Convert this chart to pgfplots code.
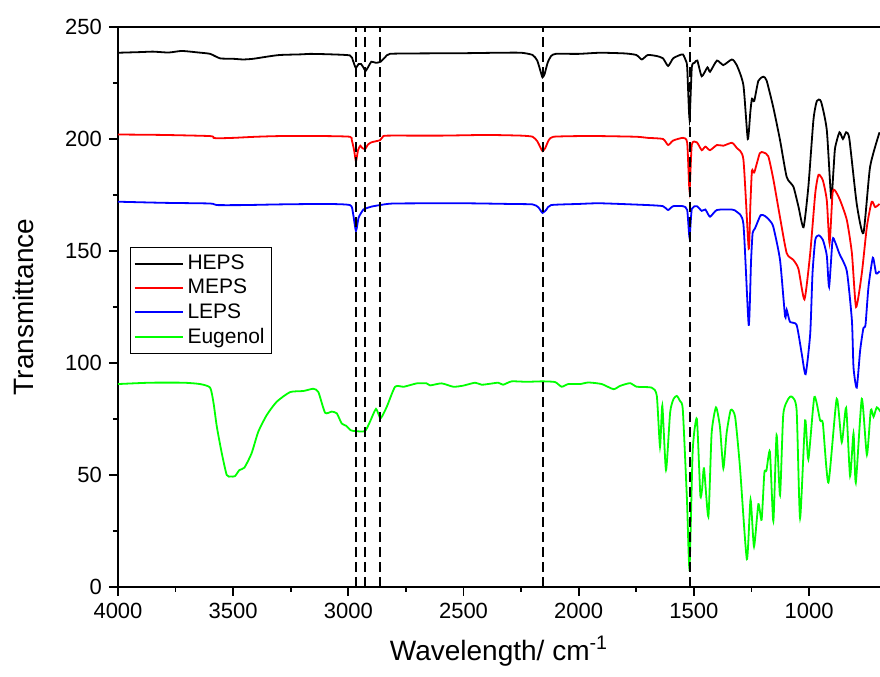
\documentclass[border=0pt]{standalone}
\usepackage{pgfplots}
\pgfplotsset{compat=1.18}
\usepackage{fontspec}
\setmainfont{Liberation Sans}
\definecolor{cgreen}{RGB}{0,255,0}
\definecolor{cred}{RGB}{255,0,0}
\definecolor{cblue}{RGB}{0,0,255}
\begin{document}
\begin{tikzpicture}
\begin{axis}[
  name=ax,
  scale only axis, width=381pt, height=280pt,
  x dir=reverse, xmin=692, xmax=4000, ymin=0, ymax=250,
  xtick={1000,1500,2000,2500,3000,3500,4000},
  ytick={0,50,100,150,200,250},
  minor x tick num=1, minor y tick num=1,
  axis x line*=box, axis y line*=left,
  xtick pos=left, ytick pos=left,
  tick align=outside,
  major tick length=4.5pt, minor tick length=2.5pt,
  every tick/.style={black, line width=0.9pt},
  axis line style={line width=0.9pt},
  /pgf/number format/set thousands separator={},
  /pgf/number format/assume math mode=true,
  ticklabel style={font=\fontsize{11}{13}\selectfont},
  xlabel={Wavelength/ cm\textsuperscript{-1}},
  ylabel={Transmittance},
  xlabel style={font=\fontsize{14}{16}\selectfont, at={(axis description cs:0.5,-0.1304)}, anchor=base},
  ylabel style={font=\fontsize{14}{16}\selectfont, at={(axis description cs:-0.1115,0.5)}, anchor=base, rotate=0},
  legend style={at={(axis description cs:0.0157,0.607)}, anchor=north west,
    draw=black, line width=0.6pt, font=\fontsize{10.5}{12.5}\selectfont,
    row sep=-0.6pt, inner xsep=1.5pt, inner ysep=1.5pt},
  legend cell align=left,
  legend image code/.code={\draw[#1, line width=1pt] (0pt,0pt) -- (24pt,0pt);},
  every axis plot/.append style={line width=0.9pt},
  spec/.style={smooth, tension=0.35},
]
\addplot[black, spec] coordinates {
(4000,238.5)(3900,238.8)(3848,239)(3780,238.6)(3723,239.3)(3650,238.6)(3600,238)(3557,236)(3500,235.8)(3457,235.5)(3413,235.8)(3350,236.8)(3297,237.5)(3200,237.8)(3166,238)(3080,237.8)(2993,237.3)(2980,235)(2968,231.8)(2955,233.5)(2945,233.5)(2935,232)(2925,230.4)(2912,232.5)(2900,234.5)(2880,234)(2860,234.5)(2840,236.5)(2820,238)(2700,238.2)(2500,238.3)(2350,238.5)(2250,238.5)(2200,237.5)(2180,235)(2165,230)(2157,227.5)(2148,229)(2135,234)(2120,237)(2100,238)(2000,238)(1907,238.5)(1800,238.2)(1750,237.5)(1726,235.5)(1700,237.5)(1660,237)(1634,236)(1612,232.6)(1590,236)(1560,237.5)(1547,237.7)(1535,235)(1529,232)(1519,209)(1509,232)(1497,234)(1485,235)(1466,228)(1441,232)(1430,230)(1400,235)(1372,233)(1335,235.5)(1314,233)(1285,224)(1266,200)(1255,212)(1248,218)(1238,217)(1220,226)(1198,227.8)(1184,226)(1155,214)(1126,199.5)(1097,183)(1068,178.7)(1046,169.8)(1024,160.6)(1003,178.7)(981,208.5)(966,217)(948,216.7)(923,204)(904,173.5)(894,186)(887,196)(868,203)(853,200)(839,203)(825,200)(793,171)(764,158)(735,187.6)(694,203)};
\addlegendentry{HEPS}
\addplot[cred, spec] coordinates {
(4000,202)(3800,201.8)(3600,201.3)(3585,200.5)(3571,200.3)(3500,200.5)(3400,201)(3297,201.3)(3100,201.3)(2993,201)(2985,199.5)(2975,195)(2967,190)(2958,195)(2948,197)(2940,196)(2927,195.5)(2915,197.5)(2900,198.5)(2880,199)(2862,199.5)(2850,201)(2830,201.5)(2600,201.5)(2400,201.8)(2250,201.5)(2200,201)(2180,199)(2165,196)(2157,194.6)(2145,196)(2130,199.5)(2110,201)(2000,201.3)(1907,201.3)(1750,201)(1700,200.5)(1634,200)(1612,197.3)(1590,199.3)(1547,200.5)(1529,198.3)(1519,177)(1509,197.5)(1487,198.5)(1466,195)(1450,196.6)(1430,195)(1400,197.3)(1372,197)(1335,198.3)(1314,196)(1285,190.8)(1262,151)(1255,170)(1248,185.8)(1238,185)(1214,193.6)(1198,194)(1177,192.3)(1155,182)(1126,165)(1097,149)(1068,146)(1046,142)(1020,128.4)(995,149)(973,175.8)(959,184)(940,181.5)(923,172.6)(911,153.4)(898,175.8)(887,177)(865,172.6)(836,163.8)(814,149)(796,125)(771,140)(749,160.8)(728,172)(713,169.6)(694,171)};
\addlegendentry{MEPS}
\addplot[cblue, spec] coordinates {
(4000,172)(3800,171.5)(3600,171.2)(3571,170.5)(3450,170.5)(3300,170.8)(3100,171)(2993,170.5)(2980,167)(2967,159)(2955,165)(2935,168.5)(2925,169)(2900,169.8)(2862,170.5)(2800,171.2)(2500,171.3)(2300,171)(2200,170.8)(2175,169.5)(2157,167)(2140,168.5)(2120,170.5)(2000,171)(1907,171.3)(1700,170.5)(1634,170)(1612,168.3)(1590,170)(1547,170)(1529,168.3)(1519,156)(1509,168.8)(1487,170)(1466,167.9)(1450,168.5)(1430,165.3)(1400,168.3)(1335,168.5)(1314,167.5)(1285,162)(1262,117)(1252,145)(1245,158)(1235,160)(1210,166)(1190,165.5)(1170,163.5)(1155,160.7)(1126,146)(1104,120.7)(1097,123.7)(1083,118.4)(1054,117)(1032,104.3)(1015,95)(995,113)(985,140)(973,155)(958,157)(940,155)(923,148)(913,134)(898,155)(887,154)(868,148.7)(836,141)(814,119)(807,98)(793,89)(778,105.8)(764,115.6)(755,117)(742,134)(723,147)(709,140)(694,141)};
\addlegendentry{LEPS}
\addplot[cgreen, spec] coordinates {
(4000,90.6)(3861,91.2)(3716,91.2)(3644,90.6)(3600,89)(3585,82)(3571,71.6)(3550,60)(3528,50)(3510,49.3)(3492,49.5)(3473,52.2)(3451,53.3)(3420,59.7)(3391,69.3)(3354,76.8)(3311,82.7)(3253,87)(3195,87.5)(3152,88.5)(3130,87)(3101,77.8)(3072,78.3)(3050,77.5)(3029,73)(3010,72)(2990,70)(2971,69.6)(2928,69.6)(2906,73.8)(2880,79.5)(2860,75.3)(2833,80.5)(2797,89.4)(2759,89.4)(2703,90.9)(2660,90.9)(2645,90)(2595,90.9)(2544,89.4)(2501,89.9)(2450,91.2)(2421,90.3)(2380,90.8)(2349,91.2)(2328,90.3)(2291,91.8)(2226,91.6)(2160,91.8)(2103,91.5)(2074,89.4)(2045,90.6)(1994,90.6)(1958,91.3)(1900,90.6)(1849,88.3)(1820,89.8)(1777,91)(1748,89.4)(1683,89)(1661,85.4)(1647,62.6)(1637,81)(1621,52.2)(1603,78)(1588,84)(1574,85.3)(1560,83)(1548,79)(1530,38.8)(1519,8.3)(1505,61)(1487,75)(1472,41)(1464,44)(1456,53)(1437,31.4)(1423,68.6)(1404,80.2)(1387,71.6)(1372,53)(1358,68.6)(1340,79)(1321,76)(1300,53.6)(1270,12.4)(1254,39)(1239,18)(1220,37)(1206,30)(1194,51)(1185,52)(1170,60.4)(1155,29.4)(1141,67.8)(1126,41)(1112,77)(1090,84)(1075,85)(1054,79)(1039,30.7)(1017,74.4)(1003,57)(977,84.8)(952,74.4)(940,73)(916,46.6)(880,84)(858,64.6)(839,80)(822,49.6)(807,68.6)(797,46.6)(771,84)(749,59)(732,79)(720,76)(706,80.2)(688,78)};
\addlegendentry{Eugenol}
\addplot[black, line width=1pt, dash pattern=on 5pt off 2.5pt, forget plot] coordinates {(2967,0)(2967,250)};
\addplot[black, line width=1pt, dash pattern=on 5pt off 2.5pt, forget plot] coordinates {(2927,0)(2927,250)};
\addplot[black, line width=1pt, dash pattern=on 5pt off 2.5pt, forget plot] coordinates {(2862,0)(2862,250)};
\addplot[black, line width=1pt, dash pattern=on 5pt off 2.5pt, forget plot] coordinates {(2157,0)(2157,250)};
\addplot[black, line width=1pt, dash pattern=on 5pt off 2.5pt, forget plot] coordinates {(1516,0)(1516,250)};
\end{axis}
\pgfresetboundingbox
\path ([shift={(-59pt,-45pt)}]ax.south west) rectangle ([shift={(0pt,13.5pt)}]ax.north east);
\end{tikzpicture}
\end{document}
